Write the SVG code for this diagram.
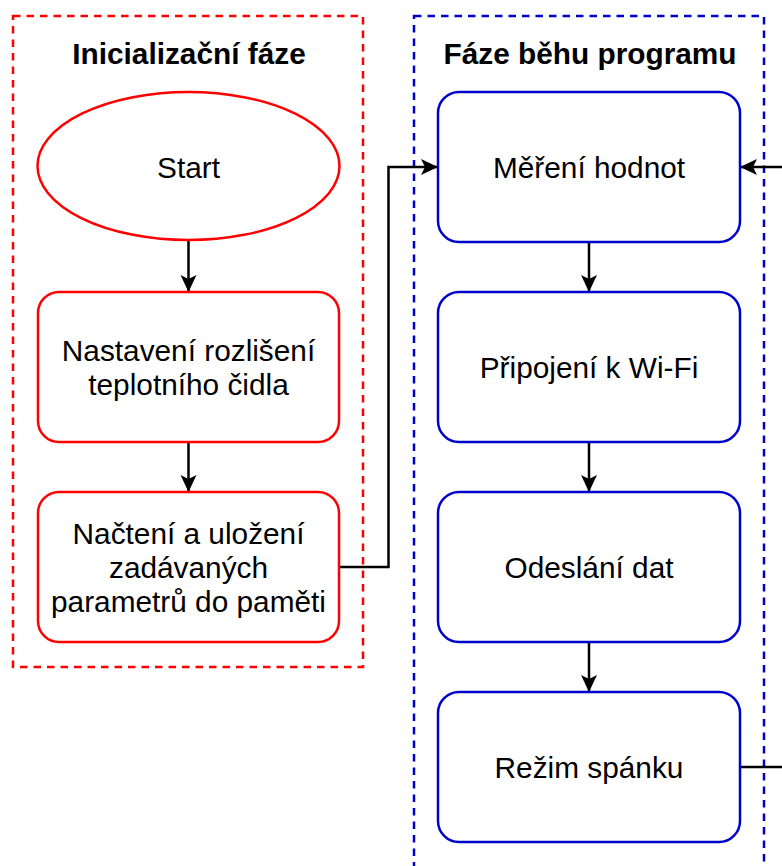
<svg xmlns="http://www.w3.org/2000/svg" width="782" height="866" viewBox="0 0 782 866">
<style>
.lbl{font-family:"Liberation Sans",Arial,Helvetica,sans-serif;font-size:29.8px;fill:#000;text-anchor:middle}
.ttl{font-family:"Liberation Sans",Arial,Helvetica,sans-serif;font-size:29.8px;font-weight:bold;fill:#000;text-anchor:middle}
.red{fill:#fff;stroke:#FF0000;stroke-width:2.5}
.blue{fill:#fff;stroke:#0000CC;stroke-width:2.5}
.grpred{fill:none;stroke:#FF0000;stroke-width:2.5;stroke-dasharray:7.5 6}
.grpblue{fill:none;stroke:#0000CC;stroke-width:2.5;stroke-dasharray:7.5 6}
.edge{fill:none;stroke:#000;stroke-width:2.5}
</style>
<defs>
<marker id="arr" markerUnits="userSpaceOnUse" markerWidth="18" markerHeight="17" refX="17" refY="8" orient="auto" viewBox="0 0 18 17">
<path d="M17,8 L0,0 L4,8 L0,16 Z" fill="#000"/>
</marker>
</defs>
<rect width="782" height="866" fill="#fff"/>
<g id="init-phase">
<rect class="grpred" x="13" y="16" width="350" height="651"/>
<text class="ttl" x="189" y="64">Inicializační fáze</text>
</g>
<g id="run-phase">
<rect class="grpblue" x="414" y="16" width="350" height="880"/>
<text class="ttl" x="590" y="64">Fáze běhu programu</text>
</g>
<g id="connectors">
<path class="edge" d="M188.5,240 L188.5,292" marker-end="url(#arr)"/>
<path class="edge" d="M188.5,442 L188.5,492" marker-end="url(#arr)"/>
<path class="edge" d="M339,567 L388.5,567 L388.5,167 L438,167" marker-end="url(#arr)"/>
<path class="edge" d="M589,242 L589,292" marker-end="url(#arr)"/>
<path class="edge" d="M589,442 L589,492" marker-end="url(#arr)"/>
<path class="edge" d="M589,642 L589,692" marker-end="url(#arr)"/>
<path class="edge" d="M740,767 L800,767 L800,167 L740,167" marker-end="url(#arr)"/>
</g>
<g id="start">
<ellipse class="red" cx="188.5" cy="166" rx="151" ry="74"/>
<text class="lbl" x="188.5" y="177.5">Start</text>
</g>
<g id="nastaveni">
<rect class="red" x="38" y="292" width="301" height="150" rx="21"/>
<text class="lbl" x="188.5" y="361">Nastavení rozlišení</text>
<text class="lbl" x="188.5" y="395">teplotního čidla</text>
</g>
<g id="nacteni">
<rect class="red" x="38" y="492" width="301" height="150" rx="21"/>
<text class="lbl" x="188.5" y="543.5">Načtení a uložení</text>
<text class="lbl" x="188.5" y="577.5">zadávaných</text>
<text class="lbl" x="188.5" y="611.5">parametrů do paměti</text>
</g>
<g id="mereni">
<rect class="blue" x="438" y="92" width="302" height="150" rx="21"/>
<text class="lbl" x="589" y="178">Měření hodnot</text>
</g>
<g id="pripojeni">
<rect class="blue" x="438" y="292" width="302" height="150" rx="21"/>
<text class="lbl" x="589" y="378">Připojení k Wi-Fi</text>
</g>
<g id="odeslani">
<rect class="blue" x="438" y="492" width="302" height="150" rx="21"/>
<text class="lbl" x="589" y="578">Odeslání dat</text>
</g>
<g id="rezim">
<rect class="blue" x="438" y="692" width="302" height="150" rx="21"/>
<text class="lbl" x="589" y="778">Režim spánku</text>
</g>
</svg>
